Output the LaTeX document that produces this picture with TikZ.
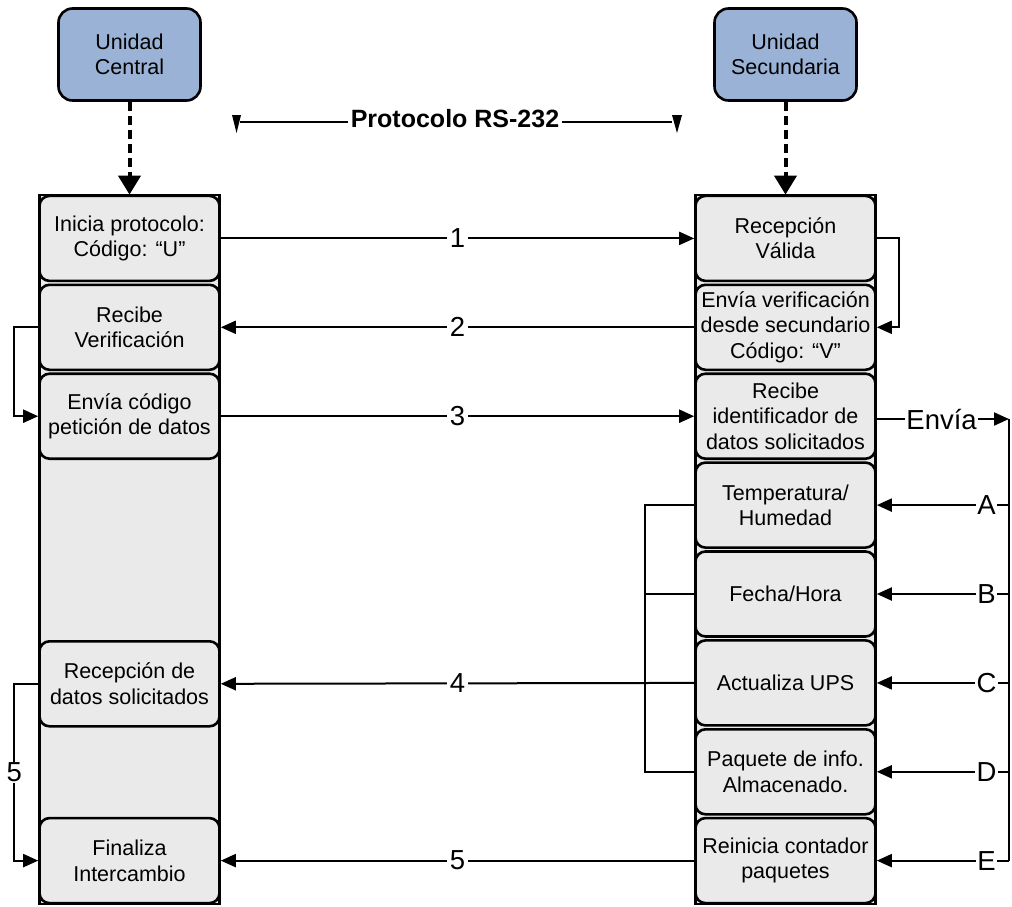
\documentclass[tikz,border=0pt]{standalone}
\usepackage{fontspec}
\setmainfont{Liberation Sans}
\usetikzlibrary{arrows.meta}
\definecolor{boxgray}{RGB}{234,234,234}
\definecolor{unitblue}{RGB}{153,178,214}
\begin{document}
\begin{tikzpicture}[x=1pt,y=-1pt,
  boxfont/.style={font=\fontsize{21.5}{25.5}\selectfont},
  stepbox/.style={boxfont, draw=black, line width=2.6pt, rounded corners=10pt,
    fill=boxgray, minimum width=180pt, minimum height=85pt, align=center, inner sep=0pt},
  unitbox/.style={stepbox, fill=unitblue, minimum width=142pt, minimum height=92pt,
    rounded corners=14pt},
  lifeline/.style={draw=black, line width=2.6pt, fill=boxgray},
  conn/.style={line width=2pt, -{Triangle[length=15pt,width=13pt]}},
  plain/.style={line width=2pt},
  dasharrow/.style={line width=4pt, dash pattern=on 9pt off 5pt,
    -{Triangle[length=19pt,width=22pt]}},
  lbl/.style={fill=white, inner sep=2.5pt, font=\fontsize{27.5}{27.5}\selectfont},
]
\useasboundingbox (0,0) rectangle (1012,906);

% lifelines behind the steps
\draw[lifeline] (39.5,195) rectangle (219.5,904);
\draw[lifeline] (695.5,195) rectangle (875.5,904);

% units
\node[unitbox] (uc) at (129.5,54.5) {Unidad\\Central};
\node[unitbox] (us) at (785.5,54.5) {Unidad\\Secundaria};

% central unit steps
\node[stepbox] (L1) at (129.5,238.4) {Inicia protocolo:\\Código: “U”};
\node[stepbox] (L2) at (129.5,327.3) {Recibe\\Verificación};
\node[stepbox] (L3) at (129.5,416.2) {Envía código\\petición de datos};
\node[stepbox] (L4) at (129.5,683.8) {Recepción de\\datos solicitados};
\node[stepbox] (L5) at (129.5,860.6) {Finaliza\\Intercambio};

% secondary unit steps
\node[stepbox] (R1) at (785.5,238.4) {Recepción\\Válida};
\node[stepbox] (R2) at (785.5,327.3) {Envía verificación\\desde secundario\\Código: “V”};
\node[stepbox] (R3) at (785.5,416.2) {Recibe\\identificador de\\datos solicitados};
\node[stepbox] (R4) at (785.5,505.1) {Temperatura/\\Humedad};
\node[stepbox] (R5) at (785.5,594.0) {Fecha/Hora};
\node[stepbox] (R6) at (785.5,682.9) {Actualiza UPS};
\node[stepbox] (R7) at (785.5,771.8) {Paquete de info.\\Almacenado.};
\node[stepbox] (R8) at (785.5,860.6) {Reinicia contador\\paquetes};

% unit to lifeline
\draw[dasharrow] (uc.south) -- (L1.north);
\draw[dasharrow] (us.south) -- (R1.north);

% protocol heading
\node[font=\bfseries\fontsize{25}{25}\selectfont, inner sep=3pt] (proto) at (455,119) {Protocolo RS-232};
\coordinate (pl) at (240,122);
\coordinate (pr) at (672,122);
\draw[line width=1.2pt] (proto.west |- pl) -- (pl);
\draw[line width=1.2pt] (proto.east |- pr) -- (pr);
\fill (pl) ++(1,-7) -- ++(-9,0) -- ++(4.5,18) -- cycle;
\fill (pr) ++(0,-7) -- ++(10,0) -- ++(-5,18) -- cycle;

% exchange messages
\draw[conn] (L1.east) -- node[lbl]{1} (R1.west);
\draw[conn] (R2.west) -- node[lbl]{2} (L2.east);
\draw[conn] (L3.east) -- node[lbl]{3} (R3.west);
\draw[conn] (R6.west) -- node[lbl]{4} (L4.east);
\draw[conn] (R8.west) -- node[lbl]{5} (L5.east);

% internal transitions
\draw[conn] (R1.east) -- ++(22,0) |- (R2.east);
\draw[conn] (L2.west) -- ++(-24,0) |- (L3.west);
\draw[conn] (L4.west) -- ++(-24,0) |- node[lbl, pos=0.25, inner sep=1pt]{5} (L5.west);

% data items merged into message 4
\draw[plain] (R4.west) -- ++(-49,0) |- (R7.west);
\draw[plain] (R5.west) -- ++(-49,0);

% request dispatch bus
\coordinate (bus0) at (1009,419);
\coordinate (busA) at (1009,505.1);
\coordinate (busB) at (1009,594.0);
\coordinate (busC) at (1009,682.9);
\coordinate (busD) at (1009,771.8);
\coordinate (busE) at (1009,860.6);
\draw[conn] (R3.east |- bus0) -- node[lbl, pos=0.49, inner sep=1.5pt]{Envía} (bus0);
\draw[plain] (bus0) -- (busE);
\draw[conn] (busA) -- node[lbl, pos=0.17, inner sep=1.5pt]{A} (R4.east);
\draw[conn] (busB) -- node[lbl, pos=0.17, inner sep=1.5pt]{B} (R5.east);
\draw[conn] (busC) -- node[lbl, pos=0.17, inner sep=1.5pt]{C} (R6.east);
\draw[conn] (busD) -- node[lbl, pos=0.17, inner sep=1.5pt]{D} (R7.east);
\draw[conn] (busE) -- node[lbl, pos=0.17, inner sep=1.5pt]{E} (R8.east);
\end{tikzpicture}
\end{document}
